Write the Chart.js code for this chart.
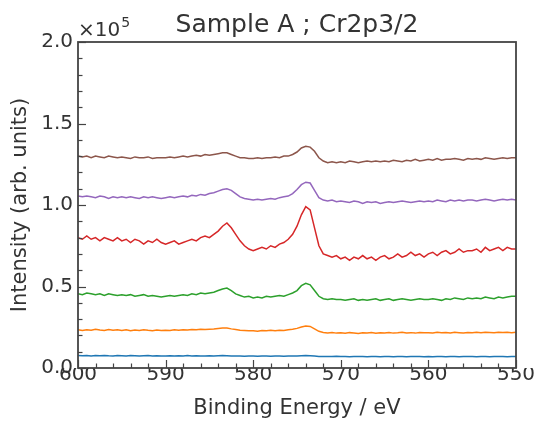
<!DOCTYPE html>
<html>
<head>
<meta charset="utf-8">
<script src="https://cdn.jsdelivr.net/npm/chart.js@4.4.0/dist/chart.umd.min.js"></script>
<style>
  body { margin: 0; background: #fff; }
  canvas { display: block; }
</style>
</head>
<body>
<canvas id="grafXps" width="539" height="421"></canvas>
<script>
// binding energy grid (eV), 0.5 eV steps
let energia = [
  600, 599.5, 599, 598.5, 598, 597.5, 597, 596.5, 596, 595.5,
  595, 594.5, 594, 593.5, 593, 592.5, 592, 591.5, 591, 590.5,
  590, 589.5, 589, 588.5, 588, 587.5, 587, 586.5, 586, 585.5,
  585, 584.5, 584, 583.5, 583, 582.5, 582, 581.5, 581, 580.5,
  580, 579.5, 579, 578.5, 578, 577.5, 577, 576.5, 576, 575.5,
  575, 574.5, 574, 573.5, 573, 572.5, 572, 571.5, 571, 570.5,
  570, 569.5, 569, 568.5, 568, 567.5, 567, 566.5, 566, 565.5,
  565, 564.5, 564, 563.5, 563, 562.5, 562, 561.5, 561, 560.5,
  560, 559.5, 559, 558.5, 558, 557.5, 557, 556.5, 556, 555.5,
  555, 554.5, 554, 553.5, 553, 552.5, 552, 551.5, 551, 550.5,
  550
];

// intensities, x10^5
let azul = [
  0.076, 0.075, 0.077, 0.074, 0.076, 0.075, 0.077, 0.075, 0.074, 0.076,
  0.075, 0.074, 0.076, 0.075, 0.073, 0.075, 0.076, 0.074, 0.075, 0.073,
  0.074, 0.075, 0.073, 0.075, 0.074, 0.076, 0.074, 0.075, 0.073, 0.074,
  0.075, 0.074, 0.075, 0.076, 0.075, 0.074, 0.073, 0.074, 0.072, 0.074,
  0.073, 0.072, 0.074, 0.073, 0.072, 0.074, 0.073, 0.072, 0.073, 0.074,
  0.074, 0.075, 0.076, 0.075, 0.073, 0.071, 0.070, 0.071, 0.070, 0.072,
  0.070, 0.071, 0.069, 0.070, 0.071, 0.070, 0.069, 0.071, 0.070, 0.069,
  0.070, 0.071, 0.069, 0.070, 0.071, 0.069, 0.070, 0.071, 0.070, 0.069,
  0.070, 0.069, 0.071, 0.070, 0.069, 0.071, 0.070, 0.069, 0.070, 0.071,
  0.070, 0.069, 0.071, 0.070, 0.069, 0.070, 0.071, 0.070, 0.069, 0.070,
  0.070
];
let laranja = [
  0.235, 0.230, 0.235, 0.232, 0.238, 0.233, 0.230, 0.236, 0.232, 0.235,
  0.230, 0.234, 0.228, 0.233, 0.230, 0.235, 0.231, 0.228, 0.233, 0.230,
  0.232, 0.230, 0.234, 0.231, 0.235, 0.233, 0.236, 0.234, 0.238, 0.236,
  0.238, 0.240, 0.243, 0.246, 0.245, 0.240, 0.236, 0.232, 0.230, 0.228,
  0.229, 0.226, 0.230, 0.228, 0.231, 0.229, 0.232, 0.230, 0.235, 0.238,
  0.243, 0.252, 0.258, 0.255, 0.240, 0.225, 0.218, 0.215, 0.218, 0.214,
  0.216, 0.213, 0.217, 0.215, 0.212, 0.216, 0.214, 0.217, 0.213, 0.216,
  0.215, 0.218, 0.214, 0.216, 0.219, 0.215, 0.217, 0.214, 0.218, 0.216,
  0.217, 0.215, 0.219, 0.216, 0.218, 0.215, 0.219, 0.217, 0.215, 0.218,
  0.216, 0.219, 0.217, 0.220, 0.218, 0.216, 0.220, 0.218, 0.219, 0.217,
  0.220
];
let verde = [
  0.455, 0.450, 0.460, 0.455, 0.450, 0.455, 0.445, 0.455, 0.450, 0.445,
  0.450, 0.445, 0.450, 0.440, 0.445, 0.450, 0.440, 0.445, 0.440, 0.435,
  0.440, 0.445, 0.440, 0.445, 0.450, 0.445, 0.455, 0.450, 0.460, 0.455,
  0.460, 0.465, 0.475, 0.485, 0.490, 0.475, 0.455, 0.445, 0.435, 0.440,
  0.430, 0.435, 0.430, 0.440, 0.435, 0.440, 0.445, 0.440, 0.450, 0.460,
  0.475, 0.505, 0.520, 0.510, 0.475, 0.440, 0.425, 0.420, 0.425, 0.420,
  0.420, 0.415, 0.420, 0.425, 0.415, 0.420, 0.415, 0.420, 0.425, 0.415,
  0.420, 0.425, 0.415, 0.420, 0.425, 0.420, 0.415, 0.420, 0.425, 0.420,
  0.420, 0.425, 0.420, 0.415, 0.425, 0.420, 0.430, 0.425, 0.420, 0.430,
  0.425, 0.430, 0.425, 0.435, 0.430, 0.425, 0.435, 0.430, 0.435, 0.440,
  0.440
];
let vermelho = [
  0.80, 0.79, 0.81, 0.79, 0.80, 0.78, 0.80, 0.79, 0.78, 0.80,
  0.78, 0.79, 0.77, 0.79, 0.78, 0.76, 0.78, 0.77, 0.79, 0.77,
  0.76, 0.77, 0.78, 0.76, 0.77, 0.78, 0.79, 0.78, 0.80, 0.81,
  0.80, 0.82, 0.84, 0.87, 0.89, 0.86, 0.82, 0.78, 0.75, 0.73,
  0.72, 0.73, 0.74, 0.73, 0.75, 0.74, 0.76, 0.77, 0.79, 0.82,
  0.87, 0.94, 0.99, 0.97, 0.86, 0.75, 0.70, 0.69, 0.68, 0.69,
  0.67, 0.68, 0.66, 0.68, 0.67, 0.69, 0.67, 0.68, 0.66, 0.68,
  0.69, 0.67, 0.68, 0.70, 0.68, 0.69, 0.71, 0.69, 0.70, 0.68,
  0.70, 0.71, 0.69, 0.71, 0.72, 0.70, 0.71, 0.73, 0.71, 0.72,
  0.72, 0.73, 0.71, 0.74, 0.72, 0.73, 0.74, 0.72, 0.74, 0.73,
  0.73
];
let roxo = [
  1.055, 1.050, 1.055, 1.050, 1.045, 1.055, 1.050, 1.040, 1.050, 1.045,
  1.050, 1.045, 1.050, 1.045, 1.040, 1.050, 1.045, 1.050, 1.045, 1.040,
  1.045, 1.050, 1.045, 1.050, 1.055, 1.050, 1.060, 1.055, 1.065, 1.060,
  1.070, 1.075, 1.085, 1.095, 1.100, 1.090, 1.070, 1.050, 1.040, 1.035,
  1.030, 1.035, 1.030, 1.035, 1.040, 1.035, 1.045, 1.050, 1.055, 1.070,
  1.095, 1.125, 1.140, 1.135, 1.090, 1.045, 1.030, 1.025, 1.030, 1.020,
  1.025, 1.020, 1.015, 1.025, 1.020, 1.010, 1.020, 1.015, 1.020, 1.010,
  1.015, 1.020, 1.015, 1.020, 1.025, 1.020, 1.015, 1.020, 1.025, 1.020,
  1.025, 1.020, 1.030, 1.025, 1.020, 1.030, 1.025, 1.030, 1.025, 1.030,
  1.030, 1.025, 1.030, 1.035, 1.030, 1.025, 1.030, 1.035, 1.030, 1.035,
  1.030
];
let marrom = [
  1.300, 1.295, 1.300, 1.290, 1.300, 1.295, 1.290, 1.300, 1.295, 1.290,
  1.295, 1.290, 1.285, 1.295, 1.290, 1.290, 1.295, 1.285, 1.290, 1.290,
  1.290, 1.295, 1.290, 1.295, 1.300, 1.295, 1.300, 1.305, 1.300, 1.310,
  1.305, 1.310, 1.315, 1.320, 1.320, 1.310, 1.300, 1.290, 1.290, 1.285,
  1.285, 1.290, 1.285, 1.290, 1.290, 1.295, 1.290, 1.300, 1.300, 1.310,
  1.325, 1.350, 1.360, 1.355, 1.330, 1.290, 1.270, 1.260, 1.265, 1.260,
  1.265, 1.260, 1.270, 1.265, 1.260, 1.265, 1.270, 1.265, 1.270, 1.265,
  1.270, 1.265, 1.275, 1.270, 1.265, 1.275, 1.270, 1.280, 1.270, 1.275,
  1.280, 1.275, 1.285, 1.275, 1.280, 1.280, 1.285, 1.280, 1.275, 1.285,
  1.280, 1.285, 1.280, 1.290, 1.285, 1.280, 1.285, 1.290, 1.285, 1.290,
  1.290
];

let ticksX = [600, 590, 580, 570, 560, 550];
let ticksY = [0.0, 0.5, 1.0, 1.5, 2.0];

let series = [
  { nome: 'azul', valores: azul, cor: '#1f77b4' },
  { nome: 'laranja', valores: laranja, cor: '#ff7f0e' },
  { nome: 'verde', valores: verde, cor: '#2ca02c' },
  { nome: 'vermelho', valores: vermelho, cor: '#d62728' },
  { nome: 'roxo', valores: roxo, cor: '#9467bd' },
  { nome: 'marrom', valores: marrom, cor: '#8c564b' }
];

const fonte = 'DejaVu Sans';
const corTexto = '#333';

// frame, inward ticks (major + minor), title and offset text, like matplotlib
let molduraPlugin = {
  id: 'moldura',
  afterDatasetsDraw(chart) {
    let ctx = chart.ctx;
    let a = chart.chartArea;
    let sx = chart.scales.x;
    let sy = chart.scales.y;
    ctx.save();
    ctx.strokeStyle = '#444';
    ctx.lineWidth = 1.2;
    for (let v = 550; v <= 600; v += 2) {
      let px = Math.round(sx.getPixelForValue(v)) + 0.5;
      let len = (v % 10 === 0) ? 8 : 4.5;
      ctx.beginPath();
      ctx.moveTo(px, a.bottom);
      ctx.lineTo(px, a.bottom - len);
      ctx.stroke();
    }
    for (let k = 0; k <= 20; k++) {
      let py = Math.round(sy.getPixelForValue(k / 10)) + 0.5;
      let len = (k % 5 === 0) ? 8 : 4.5;
      ctx.beginPath();
      ctx.moveTo(a.left, py);
      ctx.lineTo(a.left + len, py);
      ctx.stroke();
    }
    ctx.lineWidth = 1.8;
    ctx.strokeStyle = '#444';
    ctx.strokeRect(a.left, a.top, a.right - a.left, a.bottom - a.top);

    ctx.fillStyle = corTexto;
    ctx.textAlign = 'center';
    ctx.textBaseline = 'alphabetic';
    ctx.font = '25px "' + fonte + '"';
    ctx.fillText('Sample A ; Cr2p3/2', (a.left + a.right) / 2, 32);

    ctx.textAlign = 'left';
    ctx.font = '20px "' + fonte + '"';
    ctx.fillText('\u00d710', a.left, 36);
    let w = ctx.measureText('\u00d710').width;
    ctx.font = '14px "' + fonte + '"';
    ctx.fillText('5', a.left + w + 1, 27);
    ctx.restore();
  }
};

let grafXps = document.getElementById('grafXps').getContext('2d');
let chart = new Chart(grafXps, {
  type: 'line',
  data: {
    datasets: series.map(function (s) {
      return {
        label: s.nome,
        data: energia.map(function (e, i) { return { x: e, y: s.valores[i] }; }),
        borderColor: s.cor,
        backgroundColor: s.cor,
        borderWidth: 1.5,
        pointRadius: 0,
        tension: 0,
        fill: false
      };
    })
  },
  options: {
    responsive: false,
    animation: false,
    devicePixelRatio: 1,
    layout: { padding: { top: 42, right: 23, left: 0, bottom: 0 } },
    plugins: {
      legend: { display: false },
      tooltip: { enabled: false },
      title: { display: false }
    },
    scales: {
      x: {
        type: 'linear',
        min: 550,
        max: 600,
        reverse: true,
        grid: { display: false, drawTicks: false },
        border: { display: false },
        afterBuildTicks: function (s) { s.ticks = ticksX.map(function (v) { return { value: v }; }); },
        afterFit: function (s) { s.height = 53; },
        ticks: {
          autoSkip: false,
          maxRotation: 0,
          padding: -5,
          color: corTexto,
          font: { family: fonte, size: 20 },
          callback: function (v) { return String(v); }
        },
        title: {
          display: true,
          text: 'Binding Energy / eV',
          color: corTexto,
          font: { family: fonte, size: 21 },
          padding: { top: 0, bottom: 0 }
        }
      },
      y: {
        min: 0,
        max: 2.0,
        grid: { display: false, drawTicks: false },
        border: { display: false },
        afterBuildTicks: function (s) { s.ticks = ticksY.map(function (v) { return { value: v }; }); },
        afterFit: function (s) { s.width = 78; },
        ticks: {
          padding: 5,
          color: corTexto,
          font: { family: fonte, size: 20 },
          callback: function (v) { return Number(v).toFixed(1); }
        },
        title: {
          display: true,
          text: 'Intensity (arb. units)',
          color: corTexto,
          font: { family: fonte, size: 21 },
          padding: { top: 8, bottom: 0 }
        }
      }
    }
  },
  plugins: [molduraPlugin]
});
</script>
</body>
</html>
